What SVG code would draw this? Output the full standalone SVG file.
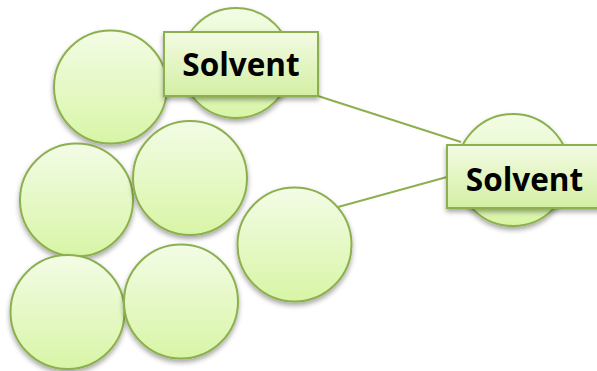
<svg xmlns="http://www.w3.org/2000/svg" width="597" height="371" viewBox="0 0 597 371">
<defs>
<linearGradient id="gc" x1="0" y1="0" x2="0" y2="1">
<stop offset="0" stop-color="#F3FCE6"/>
<stop offset="1" stop-color="#D8F5A6"/>
</linearGradient>
<linearGradient id="gb" x1="0" y1="0" x2="0" y2="1">
<stop offset="0" stop-color="#F3FBE3"/>
<stop offset="1" stop-color="#D3EFA3"/>
</linearGradient>
<filter id="sh" x="-20%" y="-20%" width="140%" height="150%">
<feDropShadow dx="0" dy="3" stdDeviation="2.5" flood-color="#000" flood-opacity="0.35"/>
</filter>
</defs>
<style>
.c{fill:url(#gc);stroke:#8CB04E;stroke-width:2;filter:url(#sh)}
.b{fill:url(#gb);stroke:#8CB04E;stroke-width:2;filter:url(#sh)}
.l{stroke:#8CB04E;stroke-width:2;fill:none}
.t{font-family:"Open Sans","Liberation Sans",Arial,sans-serif;font-weight:bold;font-size:31.5px;fill:#000;text-anchor:middle}
</style>
<g id="circle-a"><circle class="c" cx="110.5" cy="87" r="56.5"/></g>
<g id="circle-b"><circle class="c" cx="236" cy="63" r="55"/></g>
<g id="circle-c"><circle class="c" cx="76.5" cy="200" r="56.5"/></g>
<g id="circle-d"><circle class="c" cx="190" cy="178" r="57"/></g>
<g id="circle-e"><circle class="c" cx="294.5" cy="244.5" r="57"/></g>
<g id="circle-f"><circle class="c" cx="67.5" cy="312" r="57"/></g>
<g id="circle-g"><circle class="c" cx="181" cy="301.5" r="57"/></g>
<g id="circle-h"><circle class="c" cx="513" cy="170" r="56"/></g>
<g id="connectors">
<line class="l" x1="318" y1="96" x2="461" y2="142"/>
<line class="l" x1="338" y1="207" x2="447" y2="177"/>
</g>
<g id="solvent-top"><rect class="b" x="164" y="32" width="154" height="64"/><text class="t" x="241" y="75.5">Solvent</text></g>
<g id="solvent-right"><rect class="b" x="447" y="145" width="155" height="63"/><text class="t" x="524.5" y="190.5">Solvent</text></g>
</svg>
